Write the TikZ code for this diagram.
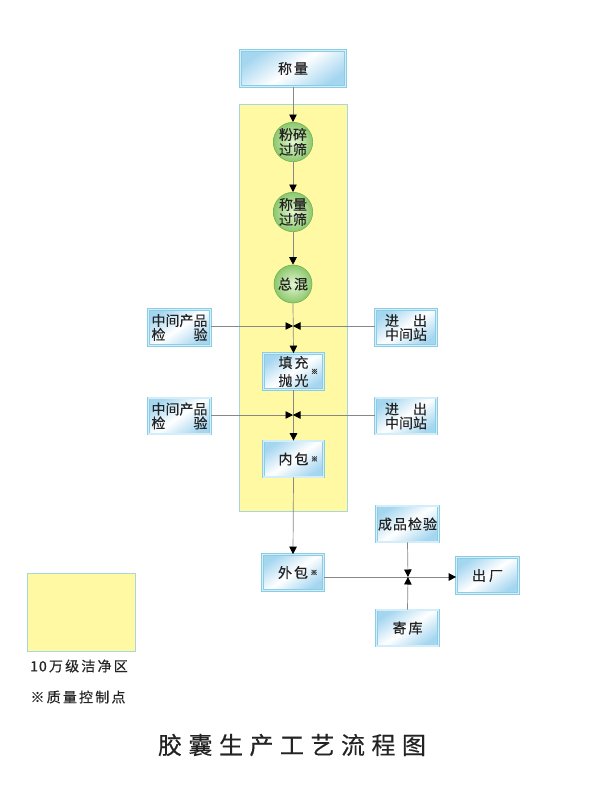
\documentclass[tikz,border=0pt]{standalone}
\usepackage{fontspec}
\newfontfamily\cjk[FakeBold=0.4]{Noto Sans CJK SC}
\newfontfamily\cjktitle[FakeBold=0.3]{Noto Sans CJK SC}
\usetikzlibrary{arrows.meta}
\definecolor{zoneyellow}{RGB}{255,249,163}
\definecolor{zoneline}{RGB}{165,215,220}
\definecolor{linegray}{RGB}{135,135,135}
\definecolor{boxblue}{RGB}{165,214,240}
\definecolor{boxline}{RGB}{140,205,230}
\definecolor{boxmid}{RGB}{212,238,249}
\definecolor{greenin}{RGB}{228,245,210}
\definecolor{greenout}{RGB}{140,200,108}
\definecolor{greenline}{RGB}{112,176,88}
\definecolor{txt}{RGB}{35,35,35}
\newcommand{\mygp}{\hspace{2pt}}
\newcommand{\mytg}{\hspace{6.5pt}}
\newcommand{\mylg}{\hspace{2.2pt}}
\begin{document}
\begin{tikzpicture}[x=1pt,y=-1pt,
  every node/.style={font=\cjk\fontsize{14}{14}\selectfont, inner sep=0pt, text=txt},
  pbox/.style={draw=boxline, double=boxmid, double distance=1.4pt, line width=0.7pt,
    left color=boxblue, right color=boxblue, middle color=white, shading angle=35,
    minimum height=36pt, align=center},
  proc/.style={circle, draw=greenline, line width=0.6pt, inner color=greenin, outer color=greenout,
    minimum size=38pt, align=center, font=\cjk\fontsize{14}{15}\selectfont},
  zone/.style={draw=zoneline, fill=zoneyellow, line width=0.8pt},
  flow/.style={draw=linegray, line width=0.7pt, -{Triangle[black,length=7.5pt,width=7.5pt]}},
  qc/.style={font=\cjk\fontsize{7}{7}\selectfont}
]
\useasboundingbox (0,0) rectangle (600,801);

% clean zone
\draw[zone] (239,104) rectangle (347,511);

% nodes
\node[pbox, minimum width=105pt] (weigh) at (293,68.5) {称\mygp 量};
\node[proc] (c1) at (293,142) {粉碎\\过筛};
\node[proc] (c2) at (293,212) {称量\\过筛};
\node[proc] (c3) at (293,284) {总\mygp 混};

\node[pbox, minimum width=62pt] (lb1) at (179.5,327.5) {中间产品\\\makebox[56pt][s]{检\hfill 验}};
\node[pbox, minimum width=61pt] (rb1) at (406,327.5) {\makebox[42pt][s]{进\hfill 出}\\中间站};
\node[pbox, minimum width=60pt, font=\cjk\fontsize{14}{18}\selectfont] (fb) at (293.5,371.5) {填\mygp 充\\抛\mygp 光};
\node[qc] (fbq) at ([xshift=21pt]fb.center) {※};

\node[pbox, minimum width=62pt] (lb2) at (179.5,416) {中间产品\\\makebox[56pt][s]{检\hfill 验}};
\node[pbox, minimum width=61pt] (rb2) at (406,416) {\makebox[42pt][s]{进\hfill 出}\\中间站};
\node[pbox, minimum width=60pt] (nb) at (293.5,459) {内\mygp 包};
\node[qc] (nbq) at ([xshift=21pt]nb.center) {※};

\node[pbox, minimum width=61pt] (wb) at (293,572.5) {外\mygp 包};
\node[qc] (wbq) at ([xshift=21pt]wb.center) {※};

\node[pbox, minimum width=62pt] (cj) at (407.5,524) {成\hspace{1pt}品\hspace{1pt}检\hspace{1pt}验};
\node[pbox, minimum width=62pt] (jk) at (407.5,628) {寄\mygp 库};
\node[pbox, minimum width=62pt] (cc) at (487.5,575.5) {出\hspace{3pt}厂};

\coordinate (j1) at (293,326);
\coordinate (j2) at (293,415);
\coordinate (j3) at (408,577);

% connectors
\draw[flow] (weigh.south) -- (c1.north);
\draw[flow] (c1.south) -- (c2.north);
\draw[flow] (c2.south) -- (c3.north);
\draw[flow] (c3.south) -- (fb.north);
\draw[flow] (lb1.east |- j1) -- (j1);
\draw[flow] (rb1.west |- j1) -- (j1);
\draw[flow] (fb.south) -- (nb.north);
\draw[flow] (lb2.east |- j2) -- (j2);
\draw[flow] (rb2.west |- j2) -- (j2);
\draw[flow] (nb.south) -- (wb.north);
\draw[flow] (wb.east |- j3) -- (cc.west |- j3);
\draw[flow] (cj.south) -- (j3);
\draw[flow] (jk.north) -- (j3);

% legend
\draw[zone] (27,573) rectangle (135,651);
\node (leg1) at (79,666) {1\hspace{1pt}0\mylg 万\mylg 级\mylg 洁\mylg 净\mylg 区};
\node (leg2) at (78,697) {※\mylg 质\mylg 量\mylg 控\mylg 制\mylg 点};

% title
\node[font=\cjktitle\fontsize{24}{24}\selectfont] (title) at (292,745)
  {胶\mytg 囊\mytg 生\mytg 产\mytg 工\mytg 艺\mytg 流\mytg 程\mytg 图};
\end{tikzpicture}
\end{document}
